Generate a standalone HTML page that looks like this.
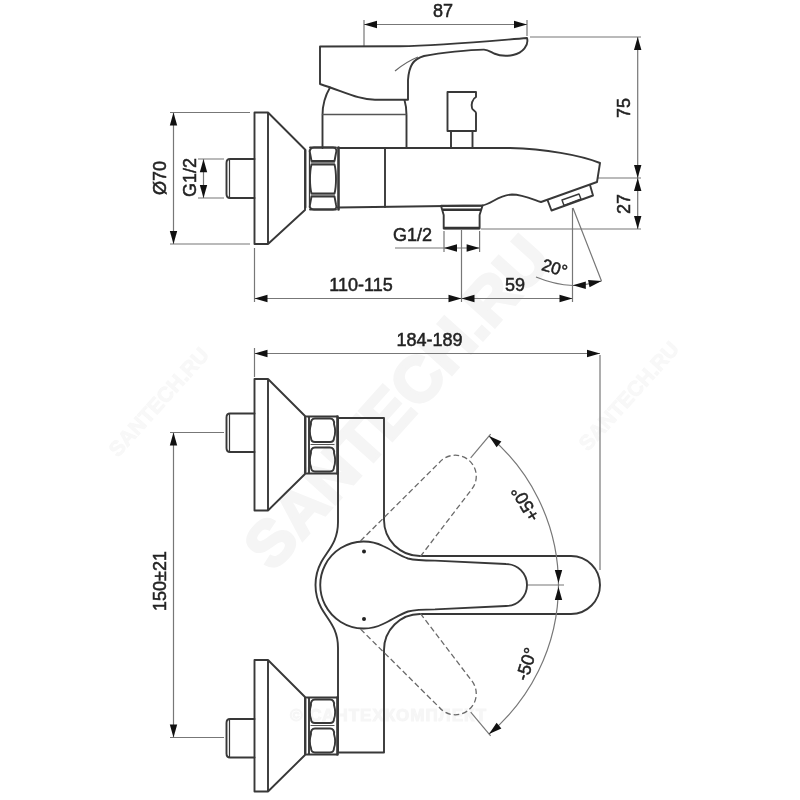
<!DOCTYPE html>
<html><head><meta charset="utf-8">
<style>
html,body{margin:0;padding:0;background:#fff;width:800px;height:800px;overflow:hidden}
svg{display:block;will-change:transform}
text{font-family:"Liberation Sans",sans-serif;fill:#222;stroke:#222;stroke-width:0.5}
.o{fill:none;stroke:#383838;stroke-width:1.9;stroke-linejoin:round;stroke-linecap:round}
.t{fill:none;stroke:#333;stroke-width:2.4}
.d{fill:none;stroke:#777;stroke-width:1.2}
.ds{fill:none;stroke:#6a6a6a;stroke-width:1.3;stroke-dasharray:5.5 3}
.a{fill:#111;stroke:none}
</style></head><body>
<svg width="800" height="800" viewBox="0 0 800 800">
<defs>
<path id="ar" d="M0,0 L-13,-3.7 L-13,3.7 Z"/>
</defs>
<!-- watermark -->
<g fill="#f2f2f2" font-weight="bold">
<text x="0" y="0" font-size="64" transform="translate(273,573) rotate(-48)" style="fill:#f5f5f5;stroke:#f5f5f5;stroke-width:3;font-weight:bold">SANTECH.RU</text>
<text font-size="21" transform="translate(118,458) rotate(-48)" style="fill:#f8f8f8;stroke:#f8f8f8;stroke-width:1;font-weight:bold">SANTECH.RU</text>
<text font-size="21" transform="translate(588,452) rotate(-48)" style="fill:#f8f8f8;stroke:#f8f8f8;stroke-width:1;font-weight:bold">SANTECH.RU</text>
<text x="290" y="721" font-size="17" style="fill:#f6f6f6;stroke:#f6f6f6;stroke-width:1;font-weight:bold;letter-spacing:1px">© САНТЕХКОМПЛЕКТ</text>
</g>

<!-- ===== SIDE VIEW ===== -->
<!-- dim 87 -->
<path class="d" d="M364,20 V46 M527,20 V36 M364,24.5 H527"/>
<use href="#ar" class="a" transform="translate(364,24.5) rotate(180)"/>
<use href="#ar" class="a" transform="translate(527,24.5)"/>
<text x="443" y="17" font-size="18" text-anchor="middle">87</text>

<!-- dim 75 / 27 -->
<path class="d" d="M530,37 H641 M598,178 H641 M481,229 H641 M637.7,37 V229"/>
<use href="#ar" class="a" transform="translate(637.7,37) rotate(-90)"/>
<use href="#ar" class="a" transform="translate(637.7,178) rotate(90)"/>
<use href="#ar" class="a" transform="translate(637.7,178) rotate(-90)"/>
<use href="#ar" class="a" transform="translate(637.7,229) rotate(90)"/>
<text font-size="18" text-anchor="middle" transform="translate(630,108) rotate(-90)">75</text>
<text font-size="18" text-anchor="middle" transform="translate(630,204) rotate(-90)">27</text>

<!-- handle -->
<path class="o" d="M320,46.5 L400,46.2 C440,45.8 490,41 527,38 C529,45 523,53 513,55 C506,56.5 500,56 494,53.5 C490,51.5 488,49.8 484,49.6 C470,49.5 440,53 424,56 C413,59 409,66 408,80 L408,99.8 L375,99.8 C358,99.5 345,92 320,84 Z"/>
<path class="d" d="M395,71 C401,66 408,61 418,57" style="stroke:#666"/>
<!-- handle cylinder -->
<path class="o" d="M330,87.5 C325,96 322.5,105 322.5,115 V148 M404.5,100 C406,105 406.5,110 406.5,115 V148"/>
<path class="o" d="M322.5,114.5 H406" style="stroke-width:1.4;stroke:#555"/>
<!-- diverter -->
<path class="o" d="M447.5,131 V92 H476 V97 C472,99 471,105 472,108 C472,110 476,111 476,113 V131 Z M451,131 V148 M472.5,131 V148"/>
<!-- body -->
<path class="o" d="M338,148 H510 C545,149 580,155 600,163 L597,182 L541,202 C532,199 522,194.5 512,194.5 C498,195 492,204 482,205.5 L338,207.5"/>
<path class="o" d="M385,148 V207"/>
<!-- aerator -->
<path class="o" d="M547.5,200 L551.5,210.5 L593,195.5 L590,185"/>
<path class="o" d="M562,200 L579,194 L581,199 L564,205.5 Z" style="stroke-width:1.4"/>
<!-- bottom connector -->
<path class="o" d="M441,205.8 H482.5 L479.6,215 V228.6 H443.7 V215 Z"/>
<path class="t" d="M442.5,209.8 H481.2 M444,228 H479.5"/>
<!-- nut side -->
<path class="o" d="M305.5,150 V207.5 M310,147.5 H336 M310,209.5 H336"/>
<path class="o" d="M309.5,150 V207.5" style="stroke-width:1.3"/>
<path class="o" d="M314,147.5 H333 C336,147.5 337,150 336,153 L334.5,161 H311.5 L310,153 C309,150 311,147.5 314,147.5 Z"/>
<path class="o" d="M311.5,164.5 H334.5 C336.5,172 336.5,186 334.5,193.5 H311.5 C309.5,186 309.5,172 311.5,164.5 Z"/>
<path class="o" d="M311.5,196.5 H334.5 L336,204.5 C337,207.5 336,209.5 333,209.5 H314 C311,209.5 309,207.5 310,204.5 Z"/>
<path class="o" d="M311.5,162.8 H334.5 M311.5,195 H334.5" style="stroke-width:1.2;stroke:#555"/>
<path class="o" d="M338.5,147.5 V209.5" style="stroke-width:2.6"/>
<!-- flange side -->
<path class="o" d="M254.5,112.5 H268 V244 H254.5 Z M268,112.5 L305,149.5 V210 L268,244"/>
<path class="o" d="M254.5,159 H230 C227.5,159 226.5,160.5 226.5,163 V194 C226.5,196.5 227.5,198 230,198 H254.5"/>
<path class="o" d="M229.5,160 V197" style="stroke-width:1.2"/>
<!-- dim Ø70 -->
<path class="d" d="M170,112.5 H250 M170,244 H250 M173.5,112.5 V244"/>
<use href="#ar" class="a" transform="translate(173.5,112.5) rotate(-90)"/>
<use href="#ar" class="a" transform="translate(173.5,244) rotate(90)"/>
<text font-size="18" text-anchor="middle" transform="translate(166,178) rotate(-90)">Ø70</text>
<!-- dim G1/2 left -->
<path class="d" d="M198,159 H224 M198,198 H224 M203.5,159 V198"/>
<use href="#ar" class="a" transform="translate(203.5,159.3) rotate(-90)"/>
<use href="#ar" class="a" transform="translate(203.5,198) rotate(90)"/>
<text font-size="18" text-anchor="middle" transform="translate(196,177.5) rotate(-90)">G1/2</text>
<!-- dim G1/2 bottom -->
<path class="d" d="M444,231 V252 M479.6,231 V252 M395,248 H479.6 M461.5,230 V302"/>
<use href="#ar" class="a" transform="translate(444,248) rotate(180)"/>
<use href="#ar" class="a" transform="translate(479.6,248)"/>
<text x="412.5" y="240.5" font-size="18" text-anchor="middle">G1/2</text>
<!-- 110-115 / 59 -->
<path class="d" d="M254.5,248 V302 M254.5,298.5 H572.5 M572.5,208 V302 M573,208 L601.5,281"/>
<use href="#ar" class="a" transform="translate(254.5,298.5) rotate(180)"/>
<use href="#ar" class="a" transform="translate(461.5,298.5)"/>
<use href="#ar" class="a" transform="translate(461.5,298.5) rotate(180)"/>
<use href="#ar" class="a" transform="translate(572.5,298.5)"/>
<text x="361" y="290.5" font-size="18" text-anchor="middle">110-115</text>
<text x="515" y="291" font-size="18" text-anchor="middle">59</text>
<!-- 20 deg -->
<path class="d" d="M536,277 C548,282 560,285 573,285.5 C583,285.5 592,283.5 601.5,281"/>
<use href="#ar" class="a" transform="translate(572.8,285.3) rotate(180)"/>
<use href="#ar" class="a" transform="translate(601.5,281) rotate(-12)"/>
<text font-size="17" text-anchor="middle" transform="translate(553,273.5) rotate(17)">20°</text>

<!-- ===== PLAN VIEW ===== -->
<path class="d" d="M254.5,348 V377 M600,355 V570 M254.5,353.5 H600"/>
<use href="#ar" class="a" transform="translate(254.5,353.5) rotate(180)"/>
<use href="#ar" class="a" transform="translate(600,353.5)"/>
<text x="429.5" y="345.5" font-size="18" text-anchor="middle">184-189</text>

<!-- 150±21 -->
<path class="d" d="M170,432.5 H224 M170,737.5 H224 M173.5,432.5 V737.5"/>
<use href="#ar" class="a" transform="translate(173.5,432.5) rotate(-90)"/>
<use href="#ar" class="a" transform="translate(173.5,737.5) rotate(90)"/>
<text font-size="18" text-anchor="middle" transform="translate(166,581) rotate(-90)">150±21</text>

<!-- flanges plan -->
<g id="fl">
<path class="o" d="M254.5,379 H268 V510.5 H254.5 Z M268,379 L305,416 V474 L268,510.5"/>
<path class="o" d="M305.5,418 V472 M309,417 V473" />
<path class="o" d="M306,416.5 H337 M306,473.5 H337"/>
<path class="o" d="M315,418.5 H330 C333,418.5 334.5,421 334,424 C335.5,429 335.5,434 334,438 C334,441 333,442 330,442 H315 C312,442 311,441 311,438 C309.5,434 309.5,429 311,424 C310.5,421 312,418.5 315,418.5 Z"/>
<path class="o" d="M315,447.5 H330 C333,447.5 334.5,450 334,453 C335.5,458 335.5,463 334,467 C334,470 333,471.5 330,471.5 H315 C312,471.5 311,470 311,467 C309.5,463 309.5,458 311,453 C310.5,450 312,447.5 315,447.5 Z"/>
<path class="o" d="M311,444.5 H334" style="stroke-width:1.2;stroke:#555"/>
<path class="o" d="M337.5,416.5 V473.5" style="stroke-width:2.6"/>
</g>
<use href="#fl" transform="translate(0,281)"/>
<g id="st">
<path class="o" d="M254.5,413.5 H230 C227.5,413.5 226.5,415 226.5,417.5 V448 C226.5,450.5 227.5,452 230,452 H254.5"/>
<path class="o" d="M229.5,414.5 V451" style="stroke-width:1.2"/>
</g>
<use href="#st" transform="translate(0,305.5)"/>

<!-- body + lever outline -->
<path class="o" d="M338,418 H384 V520 A36,36 0 0 0 420,556 H571 A29,29 0 0 1 571,614 H420 A36,36 0 0 0 384,650 V752.5 H338 V648 C338,628 328,620 321.3,608 A48.5,48.5 0 0 1 321.3,562 C328,550 338,542 338,522 Z"/>
<!-- inner lever -->
<path class="o" d="M383,546 C392,550 400,556 408,558.5 C415,560.3 422,560.6 435,560.6 L506,564 A21,21 0 0 1 506,606 L435,609.4 C422,609.4 415,609.7 408,611.5 C400,614 392,620 383,624 A43.5,43.5 0 1 1 383,546 Z"/>
<circle cx="364" cy="551.5" r="2" fill="#222"/>
<circle cx="364" cy="619" r="2" fill="#222"/>
<!-- dashed levers -->
<path class="ds" transform="translate(364,585) rotate(-50)" d="M31.5,-31 L142,-21 A21,21 0 0 1 142,21 L58,24.9"/>
<path class="ds" transform="translate(364,585) rotate(50)" d="M58,-24.9 L142,-21 A21,21 0 0 1 142,21 L31.5,31"/>
<!-- angle dims -->
<path class="d" d="M489,436 A194.5,194.5 0 0 1 489,734"/>
<path class="d" transform="translate(364,585) rotate(-50)" d="M166,0 H197"/>
<path class="d" transform="translate(364,585) rotate(50)" d="M166,0 H197"/>
<path class="d" d="M528,585 H564"/>
<use href="#ar" class="a" transform="translate(364,585) rotate(-50) translate(194.5,0) rotate(-90)"/>
<use href="#ar" class="a" transform="translate(364,585) rotate(50) translate(194.5,0) rotate(90)"/>
<use href="#ar" class="a" transform="translate(558.5,583) rotate(90)"/>
<use href="#ar" class="a" transform="translate(558.5,587) rotate(-90)"/>
<text font-size="18" text-anchor="middle" transform="translate(525,504) rotate(-121)" dy="6.5">+50°</text>
<text font-size="18" text-anchor="middle" transform="translate(526,664) rotate(-72)" dy="6.5">-50°</text>
</svg>
</body></html>
